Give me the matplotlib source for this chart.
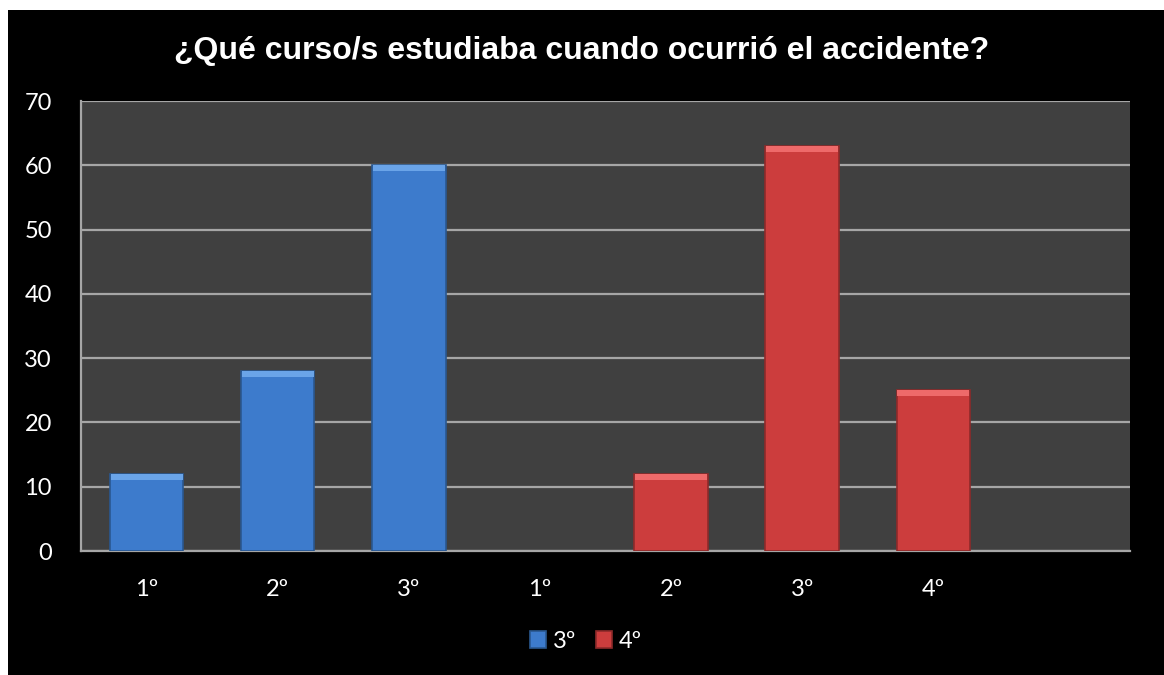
import matplotlib
matplotlib.use("Agg")
import matplotlib.pyplot as plt
import numpy as np

# data
categories = ["1º", "2º", "3º", "1º", "2º", "3º", "4º", ""]
serie_3 = [12, 28, 60, np.nan, np.nan, np.nan, np.nan, np.nan]
serie_4 = [np.nan, np.nan, np.nan, 0, 12, 63, 25, np.nan]
series_names = ["3º", "4º"]

plt.rcParams['font.family'] = ['Lato', 'DejaVu Sans']

fig = plt.figure(figsize=(11.64, 6.75), dpi=100, facecolor='white')
# black panel behind the chart (white margin on left/top)
bg = fig.add_axes([8/1164, 0, 1 - 8/1164, 665/675], zorder=-1)
bg.set_facecolor('black')
bg.set_xticks([])
bg.set_yticks([])
for s in bg.spines.values():
    s.set_visible(False)

ax = fig.add_axes([81/1164, 124/675, 1049/1164, 450/675])
ax.set_facecolor('#404040')

x = np.arange(len(categories))
width = 0.56

def bevel_bars(vals, color, dark, light):
    bars = ax.bar(x, vals, width, color=color, edgecolor=dark, linewidth=1.2, zorder=3)
    for b, v in zip(bars, vals):
        if not np.isnan(v) and v <= 0:
            b.set_edgecolor('none')
    # light strip at top of bar to mimic the bevel
    for xi, v in zip(x, vals):
        if np.isnan(v) or v <= 0:
            continue
        ax.bar(xi, 0.9, width * 0.98, bottom=v - 0.9, color=light,
               edgecolor='none', zorder=4)
    return bars

b3 = bevel_bars(serie_3, '#3d7bcc', '#2a5890', '#6aa4e8')
b4 = bevel_bars(serie_4, '#cc3d3d', '#8e2a2a', '#ee6a6a')

ax.set_ylim(0, 70)
ax.set_xlim(-0.5, len(categories) - 0.5)
ax.set_yticks(range(0, 71, 10))
ax.set_xticks(x)
ax.set_xticklabels(categories)
ax.yaxis.grid(True, color='#a6a6a6', linewidth=1.6, zorder=1)
ax.set_axisbelow(True)
ax.tick_params(axis='both', length=0, colors='white', labelsize=17)
ax.tick_params(axis='x', pad=20)
ax.tick_params(axis='y', pad=21)
for side in ['top', 'right']:
    ax.spines[side].set_visible(False)
for side in ['left', 'bottom']:
    ax.spines[side].set_color('#a6a6a6')
    ax.spines[side].set_linewidth(1.6)

fig.text(0.5, 1 - 51/675, "¿Qué curso/s estudiaba cuando ocurrió el accidente?",
         color='white', fontsize=23, fontweight='bold', ha='center', va='center',
         family=['Liberation Sans', 'DejaVu Sans'])

leg = fig.legend([b3, b4], series_names, loc='center', bbox_to_anchor=(586/1164, 1 - 641/675),
                 ncol=2, frameon=False, fontsize=17, handlelength=0.7, handleheight=0.7,
                 handletextpad=0.3, columnspacing=0.8)
for t in leg.get_texts():
    t.set_color('white')

fig.savefig('out.png', dpi=100, facecolor=fig.get_facecolor())
